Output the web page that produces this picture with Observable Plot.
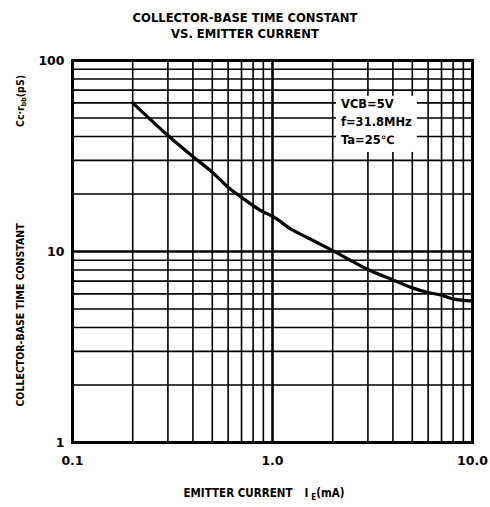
<!DOCTYPE html>
<html>
<head>
<meta charset="utf-8">
<script src="https://cdn.jsdelivr.net/npm/d3@7"></script>
<script src="https://cdn.jsdelivr.net/npm/@observablehq/plot@0.6"></script>
<style>
  body { margin: 0; background: white; width: 490px; height: 507px; overflow: hidden; }
  #title { font-family: "DejaVu Sans", sans-serif; font-weight: bold; font-size: 11.6px; text-align: center; line-height: 16px; padding-top: 10px; height: 32px; color: #000; }
</style>
</head>
<body>
<div id="title">COLLECTOR-BASE TIME CONSTANT<br>VS. EMITTER CURRENT</div>
<div id="chart"></div>
<script>
// Emitter current (mA)
const current = [0.2, 0.3, 0.4, 0.5, 0.6, 0.7, 0.8, 0.9, 1.0, 1.25, 1.5, 2, 3, 4, 5, 6, 7, 8, 10];
// Collector-base time constant (pS)
const timeConstant = [60, 40.5, 31.4, 26, 21.7, 19.2, 17.4, 16.1, 15.3, 13.0, 11.8, 10.1, 8.05, 7.1, 6.45, 6.1, 5.9, 5.65, 5.5];

const xTicks = [0.1, 1, 10];
const xTickLabels = ["0.1", "1.0", "10.0"];
const yTicks = [1, 10, 100];
const yTickLabels = ["1", "10", "100"];

const xMinorGrid = [0.2, 0.3, 0.4, 0.5, 0.6, 0.7, 0.8, 0.9, 2, 3, 4, 5, 6, 7, 8, 9];
const xMajorGrid = [1];
const yMinorGrid = [2, 3, 4, 5, 6, 7, 8, 9, 20, 30, 40, 50, 60, 70, 80, 90];
const yMajorGrid = [10];

const noteLines = ["VCB=5V", "f=31.8MHz", "Ta=25\u2103"];
const noteY = [59, 47.5, 38.3];
const noteX = [2.2, 2.2, 2.2];
const noteBox = [{x1: 2.09, x2: 5.3, y1: 33, y2: 65}];

const data = current.map((c, i) => ({c, t: timeConstant[i]}));
const notes = noteLines.map((s, i) => ({s, x: noteX[i], y: noteY[i]}));

const chart = Plot.plot({
  width: 490,
  height: 465,
  marginTop: 18,
  marginBottom: 65,
  marginLeft: 72,
  marginRight: 18,
  style: {fontFamily: "DejaVu Sans, sans-serif", fontSize: "12px", fontWeight: "bold", background: "white", color: "black"},
  x: {type: "log", domain: [0.1, 10]},
  y: {type: "log", domain: [1, 100]},
  marks: [
    Plot.ruleX(xMinorGrid, {stroke: "black", strokeWidth: 1.6}),
    Plot.ruleX(xMajorGrid, {stroke: "black", strokeWidth: 2.6}),
    Plot.ruleY(yMinorGrid, {stroke: "black", strokeWidth: 1.6}),
    Plot.ruleY(yMajorGrid, {stroke: "black", strokeWidth: 2.6}),
    Plot.rect(noteBox, {x1: "x1", x2: "x2", y1: "y1", y2: "y2", fill: "white"}),
    Plot.text(notes, {x: "x", y: "y", text: "s", textAnchor: "start", fontSize: 11.5, fontWeight: "bold", fill: "black"}),
    Plot.line(data, {x: "c", y: "t", stroke: "black", strokeWidth: 3.2, curve: "monotone-x"}),
    Plot.frame({stroke: "black", strokeWidth: 3}),
    Plot.axisX(xTicks, {tickSize: 0, tickPadding: 14, tickFormat: d => xTickLabels[xTicks.indexOf(d)], label: null, fontSize: 12.5}),
    Plot.axisY(yTicks, {tickSize: 0, tickPadding: 8, tickFormat: d => yTickLabels[yTicks.indexOf(d)], label: null, fontSize: 12.5})
  ]
});

document.getElementById("chart").appendChild(chart);

const svg = d3.select(chart);
// Y axis label (rotated), two parts
const yl = svg.append("text")
  .attr("transform", "translate(24,273) rotate(-90)")
  .attr("text-anchor", "middle")
  .attr("font-family", "DejaVu Sans Condensed, DejaVu Sans, sans-serif")
  .attr("font-size", 10.5)
  .attr("font-weight", "bold")
  .attr("fill", "black")
  .text("COLLECTOR-BASE TIME CONSTANT");
const yl2 = svg.append("text")
  .attr("transform", "translate(24,59) rotate(-90)")
  .attr("text-anchor", "middle")
  .attr("font-family", "DejaVu Sans Condensed, DejaVu Sans, sans-serif")
  .attr("font-size", 10.5)
  .attr("font-weight", "bold")
  .attr("fill", "black");
yl2.append("tspan").text("Cc\u00b7r");
yl2.append("tspan").attr("font-size", 7).attr("dy", 2).text("bb");
yl2.append("tspan").attr("dy", -2).text("(pS)");

// X axis label with subscript
const xl = svg.append("text")
  .attr("x", 264)
  .attr("y", 455)
  .attr("text-anchor", "middle")
  .attr("font-family", "DejaVu Sans Condensed, DejaVu Sans, sans-serif")
  .attr("font-size", 11.5)
  .attr("font-weight", "bold")
  .attr("fill", "black");
xl.append("tspan").text("EMITTER CURRENT");
xl.append("tspan").attr("dx", 12).text("I");
xl.append("tspan").attr("dx", 3).attr("dy", 3).attr("font-size", 8).text("E");
xl.append("tspan").attr("dy", -3).text("(mA)");
</script>
</body>
</html>
